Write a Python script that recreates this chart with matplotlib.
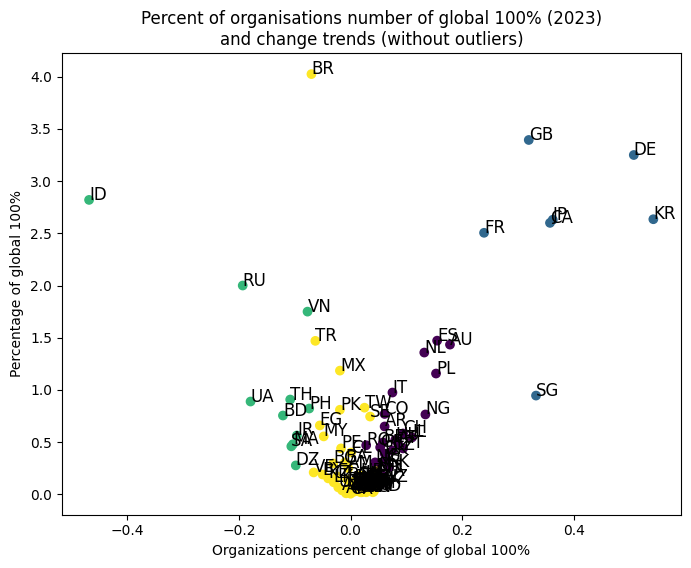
import matplotlib
matplotlib.use("Agg")
import matplotlib.pyplot as plt

# cluster ids: 0 purple, 1 blue, 2 green, 3 yellow (viridis)
codes = ["BR", "GB", "DE", "ID", "KR", "JP", "CA", "FR", "SG", "RU", "VN", "TR", "MX",
         "ES", "AU", "NL", "PL", "IT", "NG", "UA", "TH", "PH", "BD", "PK", "TW", "SE",
         "CO", "AR", "CH", "IL", "PT", "AT", "BE", "HU", "RO", "CZ", "DK", "GR", "IE",
         "NO", "FI", "NZ", "ZA", "SK",
         "IR", "SA", "MA", "DZ", "EG", "MY", "PE", "CL", "BG",
         "VE", "BY", "KZ", "LK", "EC", "UZ", "AZ", "AL", "AM", "BA", "BO", "CR", "CU",
         "CY", "DO", "EE", "GE", "GH", "GT", "HN", "HR", "IQ", "IS", "JO", "KE", "KG",
         "KH", "KW", "LB", "LT", "LU", "LV", "MD", "MK", "MN", "MT", "MM", "NP", "OM",
         "PA", "PS", "PY", "QA", "RS", "SI", "SV", "SY", "TN", "TZ", "UG", "UY", "ZW",
         "ZM", "SN", "ET", "CM", "AO"]

x_change = [-0.070, 0.319, 0.507, -0.468, 0.542, 0.362, 0.357, 0.239, 0.332, -0.193, -0.077, -0.063, -0.019,
            0.155, 0.178, 0.132, 0.153, 0.075, 0.134, -0.179, -0.108, -0.074, -0.121, -0.019, 0.025, 0.035,
            0.061, 0.061, 0.094, 0.110, 0.094, 0.085, 0.058, 0.080, 0.028, 0.075, 0.061, 0.053, 0.063,
            0.044, 0.049, 0.061, 0.057, 0.069,
            -0.096, -0.106, -0.103, -0.098, -0.055, -0.048, -0.017, 0.001, -0.031,
            -0.066, -0.050, -0.040, -0.030, -0.024, -0.022, -0.015, -0.008, -0.004, -0.010, -0.006, 0.000, 0.002,
            0.004, 0.006, 0.008, 0.010, 0.012, 0.014, 0.016, 0.018, 0.020, 0.022, 0.024, 0.026, 0.028,
            0.030, 0.032, 0.034, 0.036, 0.038, 0.040, 0.042, 0.044, 0.046, 0.048, 0.030, 0.020, 0.012,
            0.005, 0.002, 0.008, 0.016, 0.024, 0.032, 0.040, 0.036, 0.028, 0.020, 0.012, 0.004, 0.000,
            0.010, 0.018, 0.026, 0.014, 0.006]

y_share = [4.025, 3.394, 3.250, 2.820, 2.635, 2.630, 2.600, 2.505, 0.946, 2.000, 1.750, 1.470, 1.185,
           1.472, 1.434, 1.358, 1.157, 0.975, 0.765, 0.889, 0.908, 0.822, 0.755, 0.810, 0.830, 0.745,
           0.770, 0.650, 0.583, 0.545, 0.440, 0.488, 0.497, 0.520, 0.470, 0.420, 0.390, 0.450, 0.315,
           0.306, 0.230, 0.115, 0.180, 0.260,
           0.564, 0.460, 0.480, 0.277, 0.660, 0.555, 0.440, 0.400, 0.296,
           0.210, 0.190, 0.153, 0.115, 0.172, 0.067, 0.038, 0.010, 0.250, 0.306, 0.140, 0.006, 0.030,
           0.090, 0.120, 0.050, 0.080, 0.150, 0.040, 0.070, 0.180, 0.110, 0.030, 0.060, 0.160, 0.020,
           0.090, 0.050, 0.120, 0.080, 0.040, 0.070, 0.030, 0.100, 0.220, 0.200, 0.060, 0.020, 0.080,
           0.040, 0.090, 0.030, 0.070, 0.110, 0.140, 0.020, 0.040, 0.130, 0.060, 0.030, 0.100, 0.050,
           0.080, 0.020, 0.110, 0.045, 0.025]

clusters = [3, 1, 1, 2, 1, 1, 1, 1, 1, 2, 2, 3, 3,
            0, 0, 0, 0, 0, 0, 2, 2, 2, 2, 3, 3, 3,
            0, 0, 0, 0, 0, 0, 0, 0, 0, 0, 0, 0, 0,
            0, 0, 0, 0, 0,
            2, 2, 2, 2, 3, 3, 3, 3, 3,
            3, 3, 3, 3, 3, 3, 3, 3, 3, 3, 3, 3, 3,
            3, 3, 3, 3, 3, 3, 3, 3, 3, 3, 3, 3, 3,
            3, 3, 3, 3, 3, 3, 3, 3, 3, 3, 3, 3, 3,
            3, 3, 3, 3, 3, 3, 3, 3, 3, 3, 3, 3, 3,
            3, 3, 3, 3, 3]

fig = plt.figure(figsize=(6.91, 5.68), dpi=100)
ax = fig.add_axes([61.7 / 691, 53.3 / 568, 619.3 / 691, 461.7 / 568])
ax.scatter(x_change, y_share, c=clusters, cmap="viridis")
for code, xv, yv in zip(codes, x_change, y_share):
    ax.text(xv, yv, code, fontsize=12)

ax.set_xlim(-0.517, 0.5915)
ax.set_ylim(-0.195, 4.227)
ax.set_xticks([-0.4, -0.2, 0.0, 0.2, 0.4])
ax.set_yticks([0.0, 0.5, 1.0, 1.5, 2.0, 2.5, 3.0, 3.5, 4.0])
ax.set_title("Percent of organisations number of global 100% (2023)\nand change trends (without outliers)")
ax.set_xlabel("Organizations percent change of global 100%")
ax.set_ylabel("Percentage of global 100%")
fig.savefig("out.png", dpi=100)
